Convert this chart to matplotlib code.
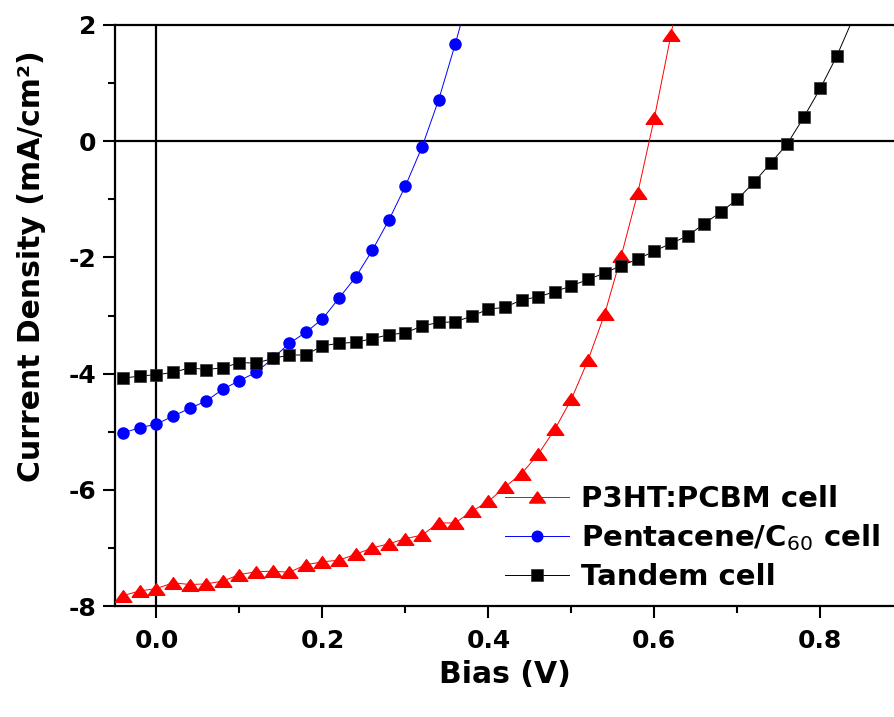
import numpy as np
import matplotlib
matplotlib.use('Agg')
import matplotlib.pyplot as plt
from matplotlib.ticker import MultipleLocator
from matplotlib.path import Path

# bias points (V), common to all three curves
bias = [-0.04, -0.02, 0.00, 0.02, 0.04, 0.06, 0.08, 0.10, 0.12, 0.14,
        0.16, 0.18, 0.20, 0.22, 0.24, 0.26, 0.28, 0.30, 0.32, 0.34,
        0.36, 0.38, 0.40, 0.42, 0.44, 0.46, 0.48, 0.50, 0.52, 0.54,
        0.56, 0.58, 0.60, 0.62, 0.64, 0.66, 0.68, 0.70, 0.72, 0.74,
        0.76, 0.78, 0.80, 0.82, 0.84]

# current density (mA/cm2)
j_p3ht = [-7.82, -7.74, -7.70, -7.60, -7.63, -7.62, -7.57, -7.46, -7.41, -7.40,
          -7.42, -7.29, -7.24, -7.21, -7.11, -7.00, -6.93, -6.84, -6.78, -6.57,
          -6.57, -6.37, -6.20, -5.95, -5.72, -5.39, -4.96, -4.44, -3.77, -2.98,
          -1.98, -0.89, 0.40, 1.83, 3.40]
j_penta = [-5.02, -4.93, -4.87, -4.73, -4.60, -4.47, -4.27, -4.12, -3.98, -3.74,
           -3.48, -3.29, -3.06, -2.70, -2.34, -1.88, -1.36, -0.77, -0.10, 0.71,
           1.67, 2.70]
j_tandem = [-4.08, -4.04, -4.02, -3.98, -3.90, -3.93, -3.90, -3.81, -3.82, -3.74,
            -3.68, -3.68, -3.52, -3.48, -3.46, -3.40, -3.33, -3.30, -3.18, -3.12,
            -3.11, -3.01, -2.89, -2.86, -2.73, -2.68, -2.59, -2.49, -2.38, -2.27,
            -2.14, -2.03, -1.89, -1.76, -1.63, -1.42, -1.22, -1.00, -0.71, -0.38,
            -0.05, 0.41, 0.91, 1.47, 2.13]

labels = ['P3HT:PCBM cell', r'Pentacene/C$_\mathrm{60}$ cell', 'Tandem cell']

plt.rcParams['font.family'] = ['DejaVu Sans']
plt.rcParams['font.weight'] = 'bold'
plt.rcParams['axes.unicode_minus'] = False
plt.rcParams['mathtext.fontset'] = 'custom'
plt.rcParams['mathtext.rm'] = 'DejaVu Sans:normal'

# flat triangle marker
tri = Path([(-1, -0.7), (1, -0.7), (0, 0.7), (-1, -0.7)],
           [Path.MOVETO, Path.LINETO, Path.LINETO, Path.CLOSEPOLY])

fig = plt.figure(figsize=(8.95, 7.17), dpi=100)
ax = fig.add_axes([115/895, 111/717, 780/895, 581/717])

ax.axhline(0, color='black', lw=1.6, zorder=1)
ax.axvline(0, color='black', lw=1.6, zorder=1)

ax.plot(bias[:len(j_p3ht)], j_p3ht, color='red', lw=0.7, marker=tri,
        markersize=12, mec='red', label=labels[0], zorder=3)
ax.plot(bias[:len(j_penta)], j_penta, color='blue', lw=0.7, marker='o',
        markersize=8, mec='blue', label=labels[1], zorder=4)
ax.plot(bias[:len(j_tandem)], j_tandem, color='black', lw=0.7, marker='s',
        markersize=9, mec='#333333', mew=0.5, label=labels[2], zorder=5)

ax.set_xlim(-0.05, 0.89)
ax.set_ylim(-8, 2)
ax.xaxis.set_major_locator(MultipleLocator(0.2))
ax.xaxis.set_minor_locator(MultipleLocator(0.1))
ax.yaxis.set_major_locator(MultipleLocator(2))
ax.yaxis.set_minor_locator(MultipleLocator(1))
ax.xaxis.set_major_formatter(plt.FormatStrFormatter('%.1f'))

for s in ['left', 'bottom', 'top']:
    ax.spines[s].set_linewidth(1.6)
ax.spines['right'].set_visible(False)
ax.tick_params(which='major', direction='out', length=8.5, width=1.5,
               labelsize=18, top=False, right=False)
ax.tick_params(which='minor', direction='out', length=5, width=1.5,
               top=False, right=False)
ax.tick_params(axis='x', pad=8)
ax.tick_params(axis='y', pad=5)

ax.set_xlabel('Bias (V)', fontsize=21.5, fontweight='bold', labelpad=5)
ax.set_ylabel('Current Density (mA/cm²)', fontsize=21.5, fontweight='bold')
ax.yaxis.set_label_coords(-0.088, 0.585)

leg = ax.legend(loc='center left', bbox_to_anchor=(0.5, 0.117), frameon=False,
                fontsize=21, handlelength=2.2, handletextpad=0.4,
                labelspacing=0.33, borderpad=0, borderaxespad=0,
                markerscale=0.95)

plt.savefig('out.png', dpi=100)
plt.close()
